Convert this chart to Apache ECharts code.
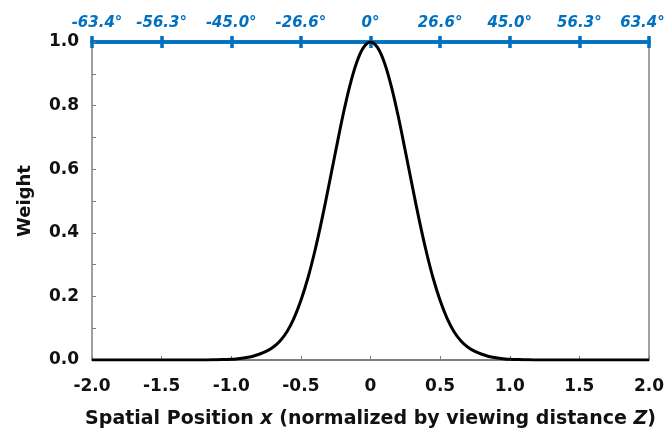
<!DOCTYPE html>
<html>
<head>
<meta charset="utf-8">
<script src="https://cdn.jsdelivr.net/npm/echarts@6/dist/echarts.min.js"></script>
<style>html,body{margin:0;padding:0;background:#fff;}#c{width:665px;height:431px;}</style>
</head>
<body>
<div id="c"></div>
<script>
// Spatial position x (normalized by viewing distance Z)
const positions = [-2.0,-1.5,-1.2,-1.1,-1.0,-0.95,-0.9,-0.85,-0.8,-0.75,-0.7,-0.65,-0.6,-0.55,-0.5,-0.45,-0.4,-0.35,-0.3,-0.25,-0.2,-0.15,-0.1,-0.05,0.0,0.05,0.1,0.15,0.2,0.25,0.3,0.35,0.4,0.45,0.5,0.55,0.6,0.65,0.7,0.75,0.8,0.85,0.9,0.95,1.0,1.1,1.2,1.5,2.0];
// Weight
const weights = [0.000,0.000,0.000,0.001,0.002,0.004,0.007,0.011,0.018,0.027,0.040,0.060,0.089,0.131,0.187,0.257,0.342,0.440,0.547,0.657,0.765,0.860,0.935,0.983,1.000,0.983,0.935,0.860,0.765,0.657,0.547,0.440,0.342,0.257,0.187,0.131,0.089,0.060,0.040,0.027,0.018,0.011,0.007,0.004,0.002,0.001,0.000,0.000,0.000];
// Bottom axis tick labels
const xTickLabels = ['-2.0','-1.5','-1.0','-0.5','0','0.5','1.0','1.5','2.0'];
// Top axis tick labels (viewing angle)
const angleLabels = ['-63.4°','-56.3°','-45.0°','-26.6°','0°','26.6°','45.0°','56.3°','63.4°'];
const yTickLabels = ['0.0','0.2','0.4','0.6','0.8','1.0'];

const blue = '#0070C0';
const gray = '#808080';
const font = 'DejaVu Sans, Verdana, sans-serif';
const idx = v => Math.round((v + 2) / 0.5);

const chart = echarts.init(document.getElementById('c'), null, {renderer: 'canvas'});
const topBase = {
  type: 'value', position: 'top', min: -2, max: 2, interval: 0.5,
  splitLine: {show: false},
  axisLine: {show: true, onZero: false, lineStyle: {color: blue, width: 3.5}}
};
const angleStyle = {color: blue, fontSize: 15, fontWeight: 'bold', fontStyle: 'italic', fontFamily: font};
chart.setOption({
  animation: false,
  grid: {left: 92, right: 16, top: 42, bottom: 71, containLabel: false, outerBoundsMode: 'none'},
  xAxis: [
    {
      type: 'value', position: 'bottom', min: -2, max: 2, interval: 0.5,
      splitLine: {show: false},
      axisLine: {show: true, onZero: false, lineStyle: {color: '#555', width: 1.5}},
      axisTick: {show: true, inside: true, length: 4, lineStyle: {color: gray, width: 1}},
      axisLabel: {margin: 18, color: '#111', fontSize: 17, fontWeight: 'bold', fontFamily: font,
        formatter: v => xTickLabels[idx(v)]},
      name: '{n|Spatial Position }{i|x}{n| (normalized by viewing distance }{i|Z}{n|)}',
      nameLocation: 'middle', nameGap: 50,
      nameTextStyle: {
        rich: {
          n: {fontSize: 19, fontWeight: 'bold', fontFamily: font, color: '#111'},
          i: {fontSize: 19, fontWeight: 'bold', fontStyle: 'italic', fontFamily: font, color: '#111'}
        }
      }
    },
    Object.assign({}, topBase, {
      axisTick: {show: true, inside: false, length: 6, lineStyle: {color: blue, width: 3.5}},
      axisLabel: {margin: 11, color: blue, fontSize: 15, fontWeight: 'bold', fontStyle: 'italic', fontFamily: font,
        formatter: v => {
          const k = idx(v);
          if (k === 0) return '{first|' + angleLabels[k] + '}';
          if (k === angleLabels.length - 1) return '{last|' + angleLabels[k] + '}';
          return angleLabels[k];
        },
        rich: {
          first: Object.assign({padding: [0, 0, 0, 10]}, angleStyle),
          last: Object.assign({padding: [0, 13, 0, 0]}, angleStyle)
        }
      }
    }),
    Object.assign({}, topBase, {
      axisTick: {show: true, inside: true, length: 6, lineStyle: {color: blue, width: 3.5}},
      axisLabel: {show: false}
    })
  ],
  yAxis: [
    {
      type: 'value', min: 0, max: 1, interval: 0.1,
      splitLine: {show: false},
      axisLine: {show: true, onZero: false, lineStyle: {color: gray, width: 1.5}},
      axisTick: {show: true, inside: true, length: 4, lineStyle: {color: gray, width: 1}},
      axisLabel: {margin: 13, color: '#111', fontSize: 17, fontWeight: 'bold', fontFamily: font,
        formatter: v => { const k = Math.round(v * 10); return k % 2 === 0 ? yTickLabels[k / 2] : ''; }},
      name: 'Weight', nameLocation: 'middle', nameGap: 58, nameRotate: 90,
      nameTextStyle: {fontSize: 18, fontWeight: 'bold', fontFamily: font, color: '#111'}
    },
    {
      type: 'value', position: 'right', min: 0, max: 1,
      splitLine: {show: false},
      axisLine: {show: true, onZero: false, lineStyle: {color: gray, width: 1.5}},
      axisTick: {show: false}, axisLabel: {show: false}
    }
  ],
  series: [{
    type: 'line',
    xAxisIndex: 0, yAxisIndex: 0,
    data: positions.map((x, i) => [x, weights[i]]),
    showSymbol: false,
    smooth: 0.35,
    lineStyle: {color: '#000', width: 3},
    z: 1
  }]
});
</script>
</body>
</html>
